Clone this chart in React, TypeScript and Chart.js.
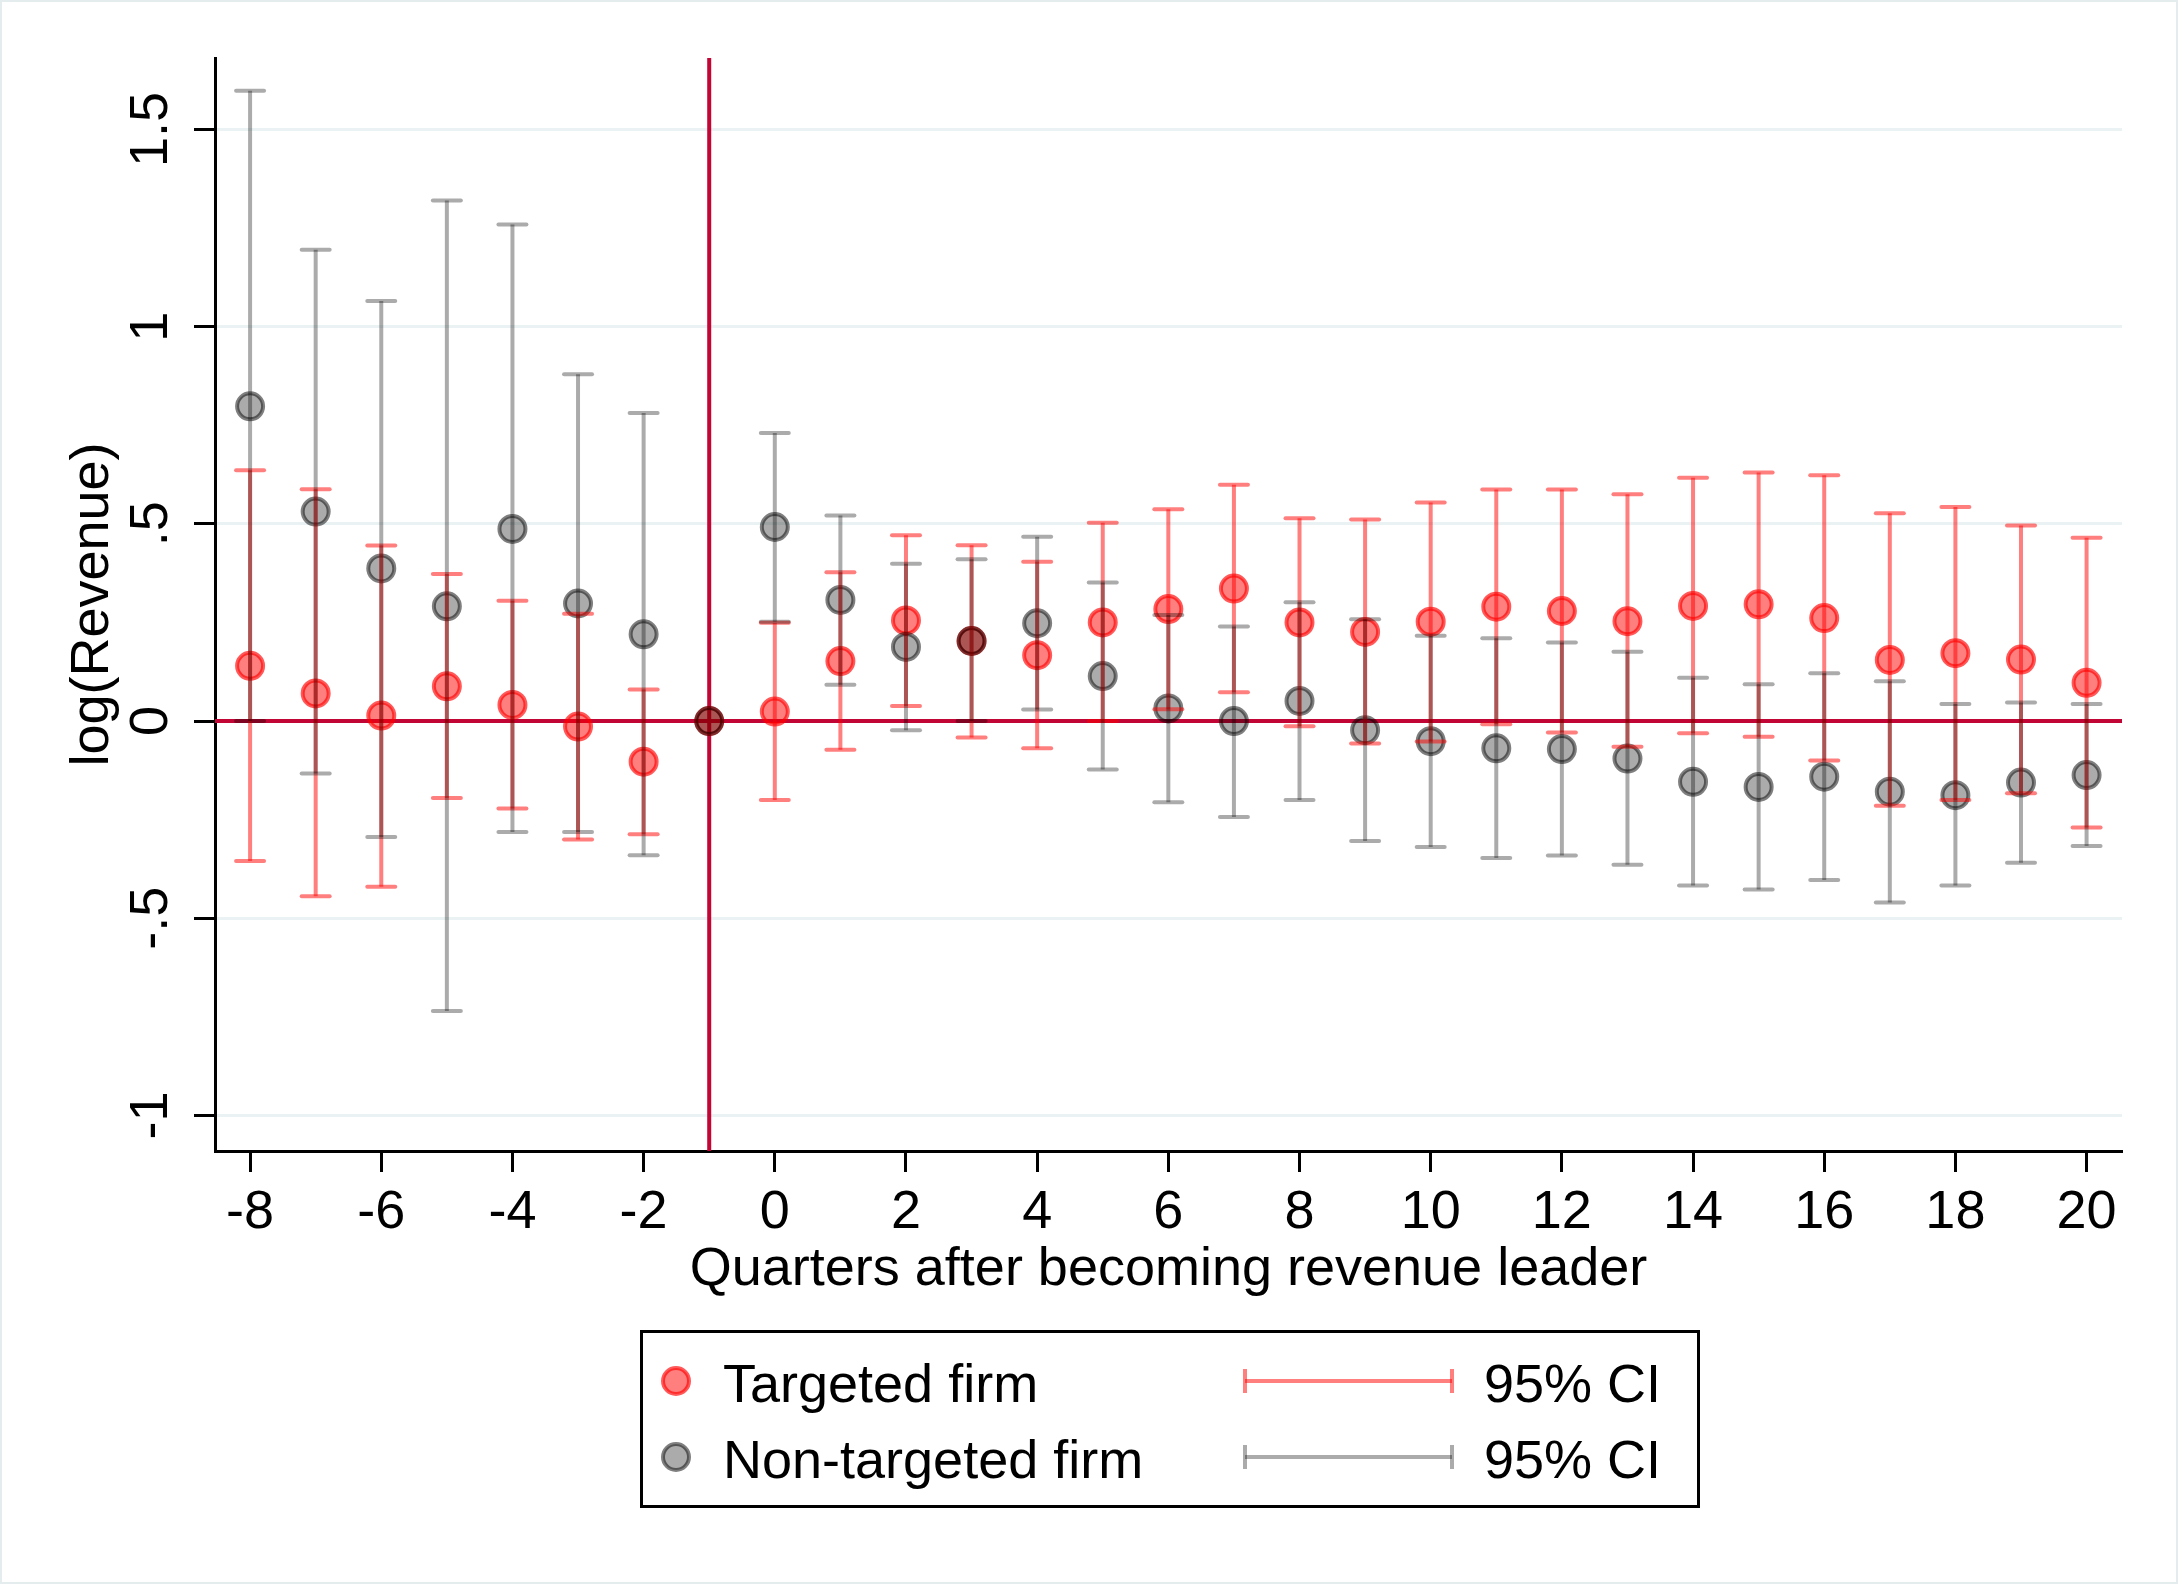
import React, { useEffect, useRef } from 'react';
import { Chart, registerables } from 'chart.js';

Chart.register(...registerables);

// ---------- data ----------
const quarters = [-8, -7, -6, -5, -4, -3, -2, -1, 0, 1, 2, 3, 4, 5, 6, 7, 8, 9, 10, 11, 12, 13, 14, 15, 16, 17, 18, 19, 20];

const targetedCoef = [0.140, 0.070, 0.014, 0.088, 0.041, -0.014, -0.103, 0, 0.024, 0.152, 0.255, 0.203, 0.167, 0.250, 0.284, 0.336, 0.250, 0.226, 0.252, 0.290, 0.279, 0.253, 0.292, 0.296, 0.261, 0.155, 0.172, 0.156, 0.097];
const targetedLo = [-0.355, -0.444, -0.420, -0.195, -0.222, -0.300, -0.287, 0, -0.200, -0.073, 0.038, -0.042, -0.069, 0.000, 0.030, 0.073, -0.013, -0.057, -0.052, -0.008, -0.029, -0.065, -0.031, -0.040, -0.100, -0.215, -0.200, -0.183, -0.270];
const targetedHi = [0.636, 0.588, 0.445, 0.373, 0.305, 0.272, 0.080, 0, 0.249, 0.377, 0.471, 0.446, 0.404, 0.503, 0.537, 0.599, 0.514, 0.511, 0.554, 0.587, 0.587, 0.575, 0.617, 0.630, 0.623, 0.527, 0.543, 0.496, 0.465];

const nonTargetedCoef = [0.798, 0.531, 0.387, 0.291, 0.487, 0.298, 0.220, 0, 0.492, 0.307, 0.188, 0.203, 0.248, 0.114, 0.032, 0.000, 0.051, -0.023, -0.051, -0.069, -0.071, -0.095, -0.154, -0.167, -0.141, -0.179, -0.188, -0.156, -0.137];
const nonTargetedLo = [0.000, -0.133, -0.294, -0.735, -0.281, -0.281, -0.340, 0, 0.252, 0.092, -0.023, 0.000, 0.029, -0.123, -0.206, -0.243, -0.200, -0.304, -0.319, -0.347, -0.341, -0.364, -0.417, -0.427, -0.403, -0.460, -0.417, -0.359, -0.317];
const nonTargetedHi = [1.598, 1.195, 1.065, 1.320, 1.259, 0.879, 0.781, 0, 0.730, 0.521, 0.399, 0.410, 0.467, 0.351, 0.269, 0.240, 0.301, 0.258, 0.216, 0.210, 0.199, 0.176, 0.110, 0.093, 0.121, 0.101, 0.043, 0.047, 0.043];

const xTickValues = [-8, -6, -4, -2, 0, 2, 4, 6, 8, 10, 12, 14, 16, 18, 20];
const xTickLabels = ['-8', '-6', '-4', '-2', '0', '2', '4', '6', '8', '10', '12', '14', '16', '18', '20'];
const yTickValues = [-1, -0.5, 0, 0.5, 1, 1.5];
const yTickLabels = ['-1', '-.5', '0', '.5', '1', '1.5'];

const refLineY = 0;
const refLineX = -1;

const seriesLabels = ['Targeted firm', 'Non-targeted firm'];
const ciLabel = '95% CI';
const xTitle = 'Quarters after becoming revenue leader';
const yTitle = 'log(Revenue)';

// ---------- styles ----------
const FONT = "'Liberation Sans', Arial, Helvetica, sans-serif";
const FONT_SIZE = 54;
const RED = 'rgba(255,0,0,0.5)';
const RED_EDGE = 'rgba(255,0,0,0.65)';
const GRAY = 'rgba(0,0,0,0.33)';
const GRAY_EDGE = 'rgba(0,0,0,0.5)';
const REF_COLOR = '#C10534';
const GRID_COLOR = 'rgb(234,242,243)';
const POINT_R = 13;
const POINT_BW = 4;
const BAR_W = 4;
const CAP_HALF = 14;

const W = 2178;
const H = 1584;

function drawMarker(ctx: CanvasRenderingContext2D, x: number, y: number, fill: string, edge: string) {
  ctx.beginPath();
  ctx.arc(x, y, POINT_R, 0, Math.PI * 2);
  ctx.fillStyle = fill;
  ctx.fill();
  ctx.lineWidth = POINT_BW;
  ctx.strokeStyle = edge;
  ctx.stroke();
}

const backgroundPlugin = {
  id: 'bg',
  beforeDraw(chart: any) {
    const ctx = chart.ctx;
    ctx.save();
    ctx.fillStyle = '#ffffff';
    ctx.fillRect(0, 0, chart.width, chart.height);
    ctx.strokeStyle = '#E4ECEE';
    ctx.lineWidth = 2;
    ctx.strokeRect(1, 1, chart.width - 2, chart.height - 2);
    ctx.restore();
  },
};

const refLinesPlugin = {
  id: 'refLines',
  beforeDatasetsDraw(chart: any) {
    const { ctx, chartArea, scales } = chart;
    const y0 = scales.y.getPixelForValue(refLineY);
    const x0 = scales.x.getPixelForValue(refLineX);
    ctx.save();
    ctx.strokeStyle = REF_COLOR;
    ctx.lineWidth = 4;
    ctx.beginPath();
    ctx.moveTo(chartArea.left, y0);
    ctx.lineTo(chartArea.right, y0);
    ctx.stroke();
    ctx.beginPath();
    ctx.moveTo(x0, chartArea.top);
    ctx.lineTo(x0, chartArea.bottom);
    ctx.stroke();
    ctx.restore();
  },
};

const errorBarPlugin = {
  id: 'errorBars',
  afterDatasetsDraw(chart: any) {
    const { ctx, scales } = chart;
    const series = [
      { lo: targetedLo, hi: targetedHi, color: RED },
      { lo: nonTargetedLo, hi: nonTargetedHi, color: GRAY },
    ];
    ctx.save();
    ctx.lineWidth = BAR_W;
    series.forEach((s) => {
      ctx.strokeStyle = s.color;
      quarters.forEach((q, i) => {
        if (s.lo[i] === s.hi[i]) return;
        const x = scales.x.getPixelForValue(q);
        const yl = scales.y.getPixelForValue(s.lo[i]);
        const yh = scales.y.getPixelForValue(s.hi[i]);
        ctx.lineCap = 'butt';
        ctx.beginPath();
        ctx.moveTo(x, yl);
        ctx.lineTo(x, yh);
        ctx.stroke();
        ctx.lineCap = 'round';
        ctx.beginPath();
        ctx.moveTo(x - CAP_HALF, yl);
        ctx.lineTo(x + CAP_HALF, yl);
        ctx.stroke();
        ctx.beginPath();
        ctx.moveTo(x - CAP_HALF, yh);
        ctx.lineTo(x + CAP_HALF, yh);
        ctx.stroke();
      });
    });
    ctx.restore();
  },
};

const legendPlugin = {
  id: 'stataLegend',
  afterDraw(chart: any) {
    const ctx = chart.ctx as CanvasRenderingContext2D;
    ctx.save();
    ctx.strokeStyle = '#000';
    ctx.lineWidth = 3;
    ctx.strokeRect(641.5, 1331.5, 1057, 175);
    const rows = [
      { y: 1381, fill: RED, edge: RED_EDGE, line: RED, label: seriesLabels[0] },
      { y: 1457, fill: GRAY, edge: GRAY_EDGE, line: GRAY, label: seriesLabels[1] },
    ];
    ctx.font = `${FONT_SIZE}px ${FONT}`;
    ctx.textBaseline = 'alphabetic';
    ctx.textAlign = 'left';
    rows.forEach((r) => {
      drawMarker(ctx, 676, r.y, r.fill, r.edge);
      ctx.fillStyle = '#000';
      ctx.fillText(r.label, 723, r.y + 21);
      ctx.strokeStyle = r.line;
      ctx.lineWidth = BAR_W;
      ctx.lineCap = 'butt';
      ctx.beginPath();
      ctx.moveTo(1245, r.y);
      ctx.lineTo(1452, r.y);
      ctx.stroke();
      ctx.beginPath();
      ctx.moveTo(1245, r.y - 12);
      ctx.lineTo(1245, r.y + 12);
      ctx.stroke();
      ctx.beginPath();
      ctx.moveTo(1452, r.y - 12);
      ctx.lineTo(1452, r.y + 12);
      ctx.stroke();
      ctx.fillStyle = '#000';
      ctx.fillText(ciLabel, 1484, r.y + 21);
    });
    ctx.restore();
  },
};

export default function App() {
  const canvasRef = useRef<HTMLCanvasElement | null>(null);

  useEffect(() => {
    document.body.style.margin = '0';
    document.body.style.overflow = 'hidden';
    const canvas = canvasRef.current;
    if (!canvas) return;

    const chart = new Chart(canvas, {
      type: 'scatter',
      data: {
        datasets: [
          {
            label: seriesLabels[0],
            data: quarters.map((q, i) => ({ x: q, y: targetedCoef[i] })),
            backgroundColor: RED,
            borderColor: RED_EDGE,
            pointRadius: POINT_R,
            pointHoverRadius: POINT_R,
            borderWidth: POINT_BW,
            order: 2,
          },
          {
            label: seriesLabels[1],
            data: quarters.map((q, i) => ({ x: q, y: nonTargetedCoef[i] })),
            backgroundColor: GRAY,
            borderColor: GRAY_EDGE,
            pointRadius: POINT_R,
            pointHoverRadius: POINT_R,
            borderWidth: POINT_BW,
            order: 1,
          },
        ],
      },
      options: {
        responsive: false,
        animation: false,
        devicePixelRatio: 1,
        layout: { padding: { left: 0, top: 58, right: 56, bottom: 274 } },
        plugins: {
          legend: { display: false },
          tooltip: { enabled: false },
        },
        scales: {
          x: {
            type: 'linear',
            position: 'bottom',
            min: -8.535,
            max: 20.54,
            afterBuildTicks: (s: any) => {
              s.ticks = xTickValues.map((v) => ({ value: v }));
            },
            afterFit: (s: any) => {
              s.height = 159;
            },
            ticks: {
              autoSkip: false,
              minRotation: 0,
              maxRotation: 0,
              padding: 9,
              color: '#000',
              font: { family: FONT, size: FONT_SIZE },
              callback: (v: any) => xTickLabels[xTickValues.indexOf(Number(v))],
            },
            grid: {
              display: true,
              drawOnChartArea: false,
              drawTicks: true,
              tickLength: 21,
              tickWidth: 3,
              tickColor: '#000',
            },
            border: { display: true, color: '#000', width: 3 },
            title: {
              display: true,
              text: xTitle,
              color: '#000',
              font: { family: FONT, size: FONT_SIZE },
              padding: { top: 0, bottom: 7 },
            },
          },
          y: {
            type: 'linear',
            position: 'left',
            min: -1.09,
            max: 1.681,
            afterBuildTicks: (s: any) => {
              s.ticks = yTickValues.map((v) => ({ value: v }));
            },
            afterFit: (s: any) => {
              s.width = 215;
            },
            ticks: {
              autoSkip: false,
              minRotation: 90,
              maxRotation: 90,
              crossAlign: 'center',
              padding: 4,
              color: '#000',
              font: { family: FONT, size: FONT_SIZE },
              callback: (v: any) => yTickLabels[yTickValues.indexOf(Number(v))],
            },
            grid: {
              display: true,
              drawOnChartArea: true,
              color: GRID_COLOR,
              lineWidth: 3,
              drawTicks: true,
              tickLength: 21,
              tickWidth: 3,
              tickColor: '#000',
            },
            border: { display: true, color: '#000', width: 3 },
            title: {
              display: true,
              text: yTitle,
              color: '#000',
              font: { family: FONT, size: FONT_SIZE },
              padding: { top: 61, bottom: 0 },
            },
          },
        },
      } as any,
      plugins: [backgroundPlugin, refLinesPlugin, errorBarPlugin, legendPlugin],
    });

    return () => {
      chart.destroy();
    };
  }, []);

  return (
    <div style={{ width: W, height: H, background: '#fff' }}>
      <canvas ref={canvasRef} width={W} height={H} style={{ display: 'block', width: W, height: H }} />
    </div>
  );
}
